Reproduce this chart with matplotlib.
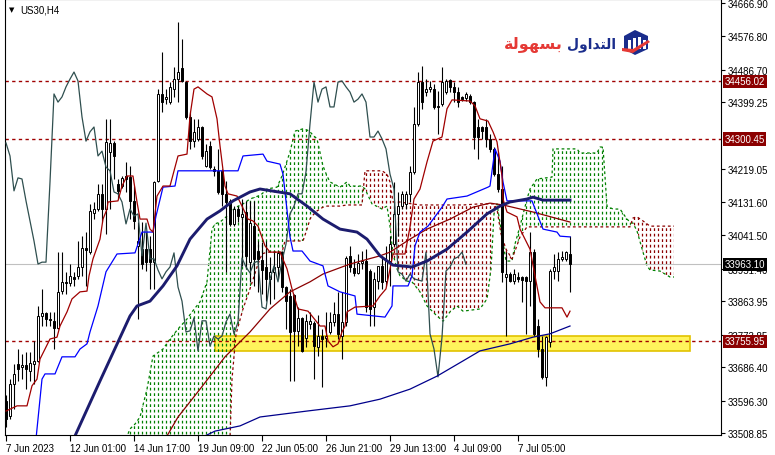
import numpy as np
import matplotlib
matplotlib.use("Agg")
import matplotlib.pyplot as plt
from matplotlib.path import Path
from matplotlib.collections import LineCollection
from matplotlib.patches import Rectangle, Polygon

plt.rcParams['font.family'] = ['Liberation Sans', 'DejaVu Sans']

# US30 H4 candles, bar 0 = 7 Jun 2023
opens = [33595, 33554, 33641, 33695, 33687, 33692, 33676, 33695, 33703, 33824,
         33832, 33816, 33811, 33792, 33891, 33916, 33913, 33929, 33932, 33956,
         34007, 33996, 34101, 34112, 34153, 34112, 34266, 34290, 34180, 34174,
         34201, 34198, 34134, 34013, 34004, 34004, 34004, 33969, 34188, 34422,
         34408, 34400, 34435, 34462, 34492, 34454, 34360, 34295, 34301, 34333,
         34228, 34282, 34220, 34215, 34215, 34153, 34134, 34072, 34112, 34091,
         34104, 33969, 34066, 33999, 33975, 33956, 33924, 33943, 33956, 33996,
         33902, 33878, 33881, 33784, 33819, 33765, 33802, 33805, 33741, 33770,
         33765, 33781, 33808, 33829, 33770, 33808, 33986, 33953, 33940, 33967,
         33972, 33945, 33848, 33918, 33959, 33918, 33972, 34018, 34099, 34120,
         34126, 34153, 34212, 34341, 34454, 34427, 34435, 34435, 34390, 34395,
         34427, 34460, 34441, 34427, 34414, 34411, 34417, 34400, 34333, 34333,
         34333, 34301, 34274, 34206, 34166, 33929, 33937, 33918, 33929, 33929,
         33929, 33918, 33996, 33797, 33735, 33660, 33754, 33945, 33945, 33978,
         33978, 33991]
highs = [33611, 33654, 33695, 33735, 33722, 33727, 33727, 33757, 33851, 33897,
         33835, 33835, 33835, 33996, 33996, 33943, 33964, 33943, 34026, 34039,
         34050, 34126, 34131, 34180, 34180, 34355, 34355, 34295, 34193, 34201,
         34239, 34228, 34174, 34077, 34077, 34050, 34039, 34188, 34435, 34535,
         34435, 34454, 34495, 34616, 34570, 34457, 34373, 34355, 34355, 34336,
         34287, 34295, 34228, 34274, 34220, 34188, 34139, 34120, 34120, 34139,
         34134, 34134, 34134, 34026, 34023, 34026, 33983, 33999, 33999, 33999,
         33905, 33897, 33883, 33848, 33821, 33829, 33835, 33811, 33827, 33789,
         33835, 33835, 33862, 33889, 33889, 33986, 34013, 33978, 33991, 33999,
         34004, 33951, 33943, 33959, 33986, 34013, 34039, 34185, 34158, 34161,
         34161, 34228, 34387, 34481, 34497, 34462, 34457, 34449, 34430, 34495,
         34462, 34462, 34454, 34441, 34417, 34427, 34422, 34403, 34355, 34336,
         34355, 34314, 34279, 34266, 34228, 33996, 33943, 33951, 33943, 33932,
         33932, 34050, 34004, 33816, 33770, 33770, 33951, 33991, 33996, 33999,
         33999, 34039]
lows = [33525, 33547, 33574, 33649, 33654, 33627, 33649, 33641, 33700, 33797,
        33797, 33797, 33735, 33789, 33883, 33883, 33905, 33905, 33924, 33932,
        33905, 33991, 34085, 34107, 34077, 34045, 34112, 34193, 34139, 34169,
        34158, 34085, 34058, 33816, 33951, 33945, 33897, 33897, 34185, 34373,
        34395, 34395, 34414, 34400, 34454, 34355, 34274, 34279, 34295, 34247,
        34225, 34220, 34201, 34153, 34120, 33943, 34066, 34066, 34077, 33959,
        33951, 33916, 33905, 33889, 33883, 33864, 33856, 33870, 33924, 33889,
        33789, 33649, 33649, 33743, 33727, 33741, 33789, 33654, 33716, 33633,
        33741, 33776, 33797, 33762, 33708, 33797, 33943, 33932, 33937, 33951,
        33835, 33797, 33797, 33897, 33897, 33905, 33905, 34013, 34039, 34112,
        34112, 34131, 34206, 34336, 34382, 34416, 34427, 34382, 34314, 34390,
        34422, 34427, 34400, 34387, 34403, 34403, 34395, 34274, 34247, 34301,
        34279, 34266, 34201, 34158, 33916, 33770, 33916, 33910, 33916, 33862,
        33776, 33851, 33770, 33714, 33654, 33636, 33741, 33924, 33918, 33972,
        33972, 33889]
closes = [33547, 33641, 33668, 33681, 33692, 33681, 33697, 33703, 33824, 33832,
          33816, 33813, 33792, 33889, 33916, 33913, 33932, 33924, 33956, 34007,
          34002, 34107, 34112, 34153, 34112, 34293, 34290, 34255, 34161, 34196,
          34193, 34134, 34080, 34026, 33964, 33969, 33969, 34185, 34422, 34400,
          34414, 34441, 34462, 34481, 34457, 34360, 34295, 34320, 34333, 34255,
          34268, 34225, 34215, 34158, 34153, 34131, 34072, 34112, 34093, 34099,
          33986, 34074, 33978, 33978, 33948, 33924, 33943, 33956, 33994, 33902,
          33864, 33781, 33784, 33819, 33730, 33811, 33811, 33743, 33770, 33762,
          33770, 33808, 33829, 33776, 33808, 33980, 33956, 33940, 33967, 33972,
          33848, 33843, 33924, 33959, 33916, 33972, 34018, 34099, 34120, 34153,
          34153, 34212, 34341, 34454, 34400, 34435, 34441, 34387, 34387, 34454,
          34457, 34441, 34427, 34400, 34408, 34422, 34400, 34306, 34306, 34322,
          34301, 34274, 34206, 34166, 33943, 33937, 33918, 33937, 33924, 33921,
          33918, 33996, 33776, 33735, 33660, 33767, 33945, 33956, 33978, 33983,
          33996, 33963.1]

# indicator lines, read at (bar index, price) vertices
tenkan_idx = [0, 2.75, 5.25, 6.5, 7.75, 8.5, 9.75, 11, 12.75, 13.5, 15.25, 16.5, 18.5, 20.25,
              20.75, 21.75, 23.5, 24.25, 25.25, 25.5, 28, 29, 30.25, 31.75, 32.75, 33.5, 35.25,
              36, 36.75, 37.75, 39.25, 41, 43, 45.25, 46, 47, 48, 50.25, 51.5, 52.75, 53.5, 54,
              54.75, 55.5, 57.75, 59, 60.5, 61.75, 63, 64.75, 66, 68.5, 70.25, 71.5, 72.25, 73,
              75.5, 76.5, 78.5, 79.75, 80.5, 81.75, 83, 84, 84.75, 85.25, 87.25, 91.75, 93.5, 95,
              96.75, 99.75, 101, 102, 103.5, 105.25, 106.75, 109, 110.25, 111.5, 116, 117.25,
              118.5, 120.5, 121.75, 122.75, 124, 124.25, 125.25, 127.75, 128.5, 129.75, 131,
              132.25, 133.5, 134.75, 139, 140.25, 141]
tenkan = [33568, 33582, 33582, 33636, 33654, 33708, 33735, 33762, 33767, 33797, 33835, 33870,
          33889, 33891, 33932, 33978, 34031, 34085, 34112, 34131, 34134, 34174, 34201, 34201,
          34131, 34085, 34085, 34058, 34050, 34147, 34174, 34174, 34255, 34260, 34363, 34435,
          34441, 34422, 34414, 34355, 34282, 34239, 34174, 34153, 34147, 34120, 34085, 34080,
          34066, 34013, 33996, 33996, 33951, 33897, 33870, 33843, 33837, 33824, 33797, 33797,
          33757, 33741, 33749, 33781, 33797, 33835, 33848, 33851, 33878, 33897, 33991, 33991,
          34064, 34139, 34166, 34239, 34295, 34306, 34382, 34406, 34403, 34390, 34355, 34349,
          34320, 34293, 34201, 34139, 34104, 34091, 34058, 34031, 34004, 33932, 33862, 33846,
          33846, 33821, 33837]

kijun_idx = [7.5, 9, 9.75, 12.25, 14, 17.25, 18.5, 20.25, 21, 23, 25, 27.75, 32.25, 34, 36.75,
             37.5, 39.25, 42.25, 43, 58, 59.25, 64.25, 65.25, 68.5, 69.25, 71, 71.75, 74, 76,
             79.25, 80.5, 83.5, 87.25, 87.75, 94.75, 96.5, 96.75, 100.5, 101.5, 102.25, 103.5,
             105.5, 109, 110.25, 115.25, 120.5, 121, 122.25, 123.5, 124.25, 125.25, 131.5,
             134.25, 137.75, 138.5, 141]
kijun = [33493, 33654, 33668, 33668, 33714, 33714, 33735, 33749, 33781, 33851, 33943, 33991,
         33994, 34050, 34050, 34093, 34171, 34174, 34215, 34215, 34255, 34260, 34241, 34233,
         34206, 34037, 33999, 33999, 33972, 33959, 33905, 33889, 33878, 33829, 33821, 33851,
         33905, 33905, 33932, 34013, 34050, 34066, 34117, 34139, 34147, 34171, 34174, 34274,
         34241, 34185, 34134, 34134, 34058, 34050, 34039, 34037]

ma_fast_idx = [17.25, 23.5, 31, 32.75, 36, 39.25, 42.75, 46, 50.25, 53.5, 56.75, 61, 63.5, 71,
               75.25, 79.25, 83.5, 87.75, 90.25, 93.5, 96.75, 101.5, 105.25, 110.25, 115.25,
               120.25, 123.5, 126, 130.25, 131.75, 134.25, 141]
ma_fast = [33501, 33649, 33824, 33851, 33864, 33905, 33959, 34031, 34085, 34107, 34134, 34158,
           34166, 34153, 34120, 34085, 34058, 34050, 34031, 33986, 33961, 33956, 33972, 34004,
           34050, 34099, 34120, 34131, 34139, 34144, 34136, 34136]

ma_mid_idx = [40.25, 43, 48.5, 54.75, 61, 66, 71, 76, 79.25, 86, 93.5, 96, 101, 105.25, 111,
              116.75, 121, 124.25, 131.75, 141]
ma_mid = [33501, 33552, 33627, 33714, 33781, 33843, 33889, 33916, 33937, 33964, 33986, 33996,
          34031, 34058, 34085, 34117, 34128, 34123, 34104, 34077]

ma_slow_idx = [49.75, 52.25, 58.5, 63.5, 75.25, 86, 93.5, 101, 107.75, 114.25, 118.5, 126,
               131.75, 136, 141]
ma_slow = [33501, 33514, 33528, 33552, 33568, 33582, 33600, 33627, 33662, 33703, 33730, 33749,
           33767, 33776, 33797]

cloud_idx = [30, 31, 32.25, 33.5, 35.25, 36.75, 39.25, 41, 43, 45.25, 46.5, 48.5, 50.25, 51.5,
             52.25, 53.5, 55.25, 56, 56.5, 57.5, 59.25, 61, 63, 64, 65.25, 67.75, 69, 69.75, 71,
             72.25, 74.25, 75.25, 76, 76.5, 77.75, 79.25, 80.25, 81, 83.5, 85.25, 86, 89, 89.75,
             91.5, 94, 95.25, 96, 96.75, 97.75, 98.5, 100.25, 101.5, 103.5, 105.25, 107.75,
             109.25, 111, 112.75, 114.25, 118.5, 120.25, 121.25, 122, 122.75, 123.75, 125,
             126.5, 127.25, 128.5, 130.25, 131, 132.75, 136.5, 136.75, 142.75, 143.5, 147.75,
             148.5, 149.25, 150.25, 151.75, 153.5, 155.25, 156, 156.75, 157.75, 159.25, 160.25,
             161, 163.5, 166, 167]
span_a = [33493, 33520, 33533, 33552, 33627, 33716, 33735, 33762, 33789, 33816, 33835, 33862,
          33916, 34058, 34072, 34077, 34093, 34099, 34107, 34117, 34126, 34139, 34147, 34153,
          34166, 34171, 34201, 34225, 34266, 34322, 34328, 34325, 34320, 34314, 34301, 34228,
          34201, 34185, 34171, 34185, 34174, 34174, 34166, 34126, 34112, 34120, 34066, 33991,
          33951, 33932, 33918, 33916, 33889, 33851, 33824, 33810, 33835, 33851, 33837, 33843,
          33870, 33951, 34099, 34126, 34058, 33972, 33972, 34018, 34066, 34139, 34166, 34193,
          34198, 34274, 34274, 34263, 34263, 34279, 34279, 34120, 34112, 34112, 34085, 34077,
          34074, 34053, 33996, 33959, 33948, 33945, 33929, 33929]
span_b = [33479, 33479, 33479, 33479, 33479, 33479, 33479, 33479, 33479, 33479, 33479, 33479,
          33479, 33479, 33479, 33479, 33479, 33493, 33654, 33775, 33843, 33897, 33964, 33991,
          33996, 33996, 33996, 34026, 34026, 34026, 34026, 34058, 34085, 34093, 34107, 34117,
          34120, 34120, 34120, 34123, 34123, 34123, 34215, 34215, 34215, 34206, 34185, 34131,
          34131, 34131, 34128, 34126, 34123, 34123, 34123, 34123, 34123, 34123, 34123, 34126,
          34126, 34126, 34126, 34112, 34045, 34004, 33978, 33999, 34037, 34064, 34064, 34064,
          34064, 34064, 34064, 34064, 34064, 34064, 34064, 34064, 34064, 34064, 34064, 34064,
          34088, 34091, 34080, 34072, 34066, 34066, 34066, 34066]

level_lines = [34456.02, 34300.45, 33755.95]
last_price = 33963.10
zone_top, zone_bottom = 33770, 33730
zone_start, zone_end = 52.25, 171

price_ticks = [34666.90, 34576.80, 34486.70, 34399.25, 34219.05, 34131.60, 34041.50,
               33951.40, 33863.95, 33773.85, 33686.40, 33596.30, 33508.85]
date_ticks = [0, 16, 32, 48, 64, 80, 96, 112, 128]
date_labels = ['7 Jun 2023', '12 Jun 01:00', '14 Jun 17:00', '19 Jun 09:00', '22 Jun 05:00',
               '26 Jun 21:00', '29 Jun 13:00', '4 Jul 09:00', '7 Jul 05:00']

DARKRED = '#8b0000'
o = np.array(opens, float)
c = np.array(closes, float)
h = np.maximum.reduce([np.array(highs, float), o, c])
l = np.minimum.reduce([np.array(lows, float), o, c])
idx = np.arange(len(o))

fig = plt.figure(figsize=(7.75, 4.56), dpi=100)
ax = fig.add_axes([5 / 775, 20 / 456, 716 / 775, 436 / 456])
ax.set_xlim(-0.25, 178.75)
ax.set_ylim(33503.5, 34677.7)

# support zone
ax.add_patch(Rectangle((zone_start, zone_bottom), zone_end - zone_start, zone_top - zone_bottom,
                       facecolor='#fff45c', edgecolor='#e2c200', lw=1.2, zorder=0.5))

# ichimoku cloud, dotted vertical hatching clipped to the cloud shape
ca = np.array(span_a, float)
cb = np.array(span_b, float)


def hatch(mask, color):
    poly = ax.fill_between(cloud_idx, ca, cb, where=mask, interpolate=True, color='none')
    paths = poly.get_paths()
    poly.remove()
    if len(paths) == 0:
        return
    clip = Path.make_compound_path(*paths)
    segs = [[(i, 33300), (i, 34800)] for i in range(30, 168)]
    lc = LineCollection(segs, colors=color, linewidths=0.9, linestyles=[(0, (2.2, 2.2))], zorder=1)
    ax.add_collection(lc)
    lc.set_clip_path(clip, ax.transData)


hatch(ca >= cb, '#008000')
hatch(ca < cb, DARKRED)
ax.plot(cloud_idx, span_a, color='#008000', lw=0.9, ls=(0, (2.2, 2.2)), zorder=1.2)
ax.plot(cloud_idx, span_b, color=DARKRED, lw=0.9, ls=(0, (2.2, 2.2)), zorder=1.2)

# levels
for lv in level_lines:
    ax.axhline(lv, color='#a00000', lw=1.0, ls=(0, (2.4, 2.4)), zorder=2)
ax.axhline(last_price, color='#c0c0c0', lw=0.8, zorder=2)

# candles
ax.vlines(idx, l, h, color='black', lw=0.8, zorder=3)
bull = c >= o
body_low = np.minimum(o, c)
body_h = np.maximum(np.abs(c - o), 2.5)
ax.bar(idx[bull], body_h[bull], bottom=body_low[bull], width=0.7, color='white',
       edgecolor='black', lw=0.7, zorder=3.1)
ax.bar(idx[~bull], body_h[~bull], bottom=body_low[~bull], width=0.7, color='black',
       edgecolor='black', lw=0.7, zorder=3.1)

# indicator lines
ax.plot(idx[:-26], c[26:], color='#2f4f4f', lw=0.9, zorder=4)  # chikou
ax.plot(ma_slow_idx, ma_slow, color='#00008b', lw=0.9, zorder=4)
ax.plot(ma_mid_idx, ma_mid, color=DARKRED, lw=0.9, zorder=4)
ax.plot(kijun_idx, kijun, color='#0000ff', lw=0.9, zorder=4)
ax.plot(tenkan_idx, tenkan, color='#a00000', lw=0.9, zorder=4)
ax.plot(ma_fast_idx, ma_fast, color='#1c1c6e', lw=2.1, zorder=4.5)

# axes styling
for s in ax.spines.values():
    s.set_linewidth(0.8)
ax.yaxis.tick_right()
ax.set_yticks(price_ticks)
ax.set_yticklabels([f'{v:.2f}' for v in price_ticks])
ax.tick_params(axis='y', direction='out', length=3, width=0.8, pad=2, labelsize=7)
ax.set_xticks(date_ticks)
ax.set_xticklabels(date_labels)
ax.tick_params(axis='x', direction='out', length=4, width=0.8, pad=2, labelsize=7)
for lbl in ax.get_xticklabels():
    lbl.set_horizontalalignment('left')


def price_tag(val, bg):
    ax.annotate(f'{val:.2f}', xy=(1, val), xycoords=('axes fraction', 'data'),
                xytext=(2.5, 0), textcoords='offset points', ha='left', va='center',
                fontsize=7, color='white', annotation_clip=False, zorder=10,
                bbox=dict(boxstyle='square,pad=0.18', fc=bg, ec='none'))


price_tag(34456.02, DARKRED)
price_tag(34300.45, DARKRED)
price_tag(last_price, 'black')
price_tag(33755.95, DARKRED)

ax.text(0.006, 0.977, '\u25bc', transform=ax.transAxes, fontsize=5, family='DejaVu Sans',
        va='center', ha='left')
ax.text(0.021, 0.977, 'US30,H4', transform=ax.transAxes, fontsize=7, va='center', ha='left')

# logo
fig.text(563 / 775, 1 - 45 / 456, '\ufe94\ufedf\ufeee\ufeec\ufeb4\ufe91', color='#e53935',
         fontsize=11.5, fontweight='bold', family='DejaVu Sans', ha='right', va='center')
fig.text(567 / 775, 1 - 45 / 456, '\ufedd\ufeed\ufe8d\ufeaa\ufe98\ufedf\ufe8d', color='#1a2d8c',
         fontsize=10, fontweight='bold', family='DejaVu Sans', ha='left', va='center')
icon = fig.add_axes([621 / 775, (456 - 58) / 456, 30 / 775, 28 / 456])
icon.set_xlim(0, 30)
icon.set_ylim(0, 28)
icon.axis('off')
icon.add_patch(Polygon([(3, 21), (14, 27), (27, 21), (27, 8), (14, 2), (3, 8)], closed=True,
                       fc='#1a2d8c', ec='none'))
for bx, bh in [(7, 9), (12, 11), (17, 12), (22, 9)]:
    icon.add_patch(Rectangle((bx, 8), 2.5, bh, fc='white', ec='none'))
icon.add_patch(Polygon([(1, 6), (12, 4), (29, 15), (27, 17), (12, 8), (1, 9)], closed=True,
                       fc='#e53935', ec='none'))

fig.savefig('out.png', dpi=100)
